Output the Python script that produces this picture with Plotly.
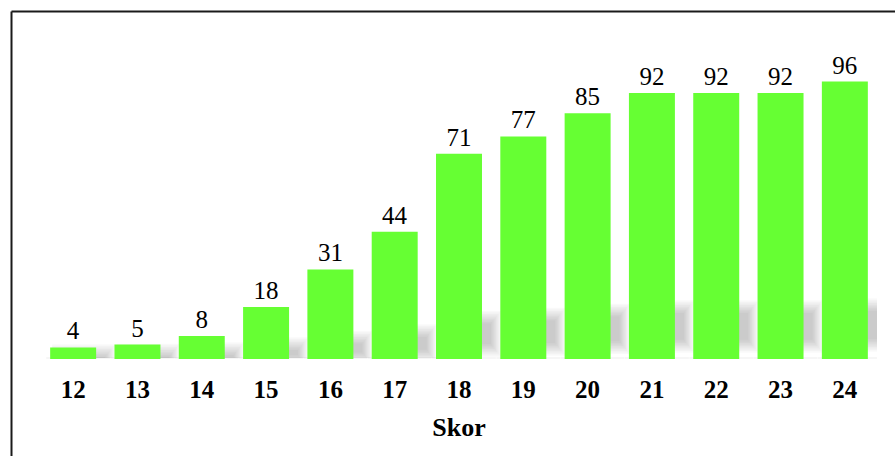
import plotly.graph_objects as go

# Score distribution
skor = [12, 13, 14, 15, 16, 17, 18, 19, 20, 21, 22, 23, 24]
jumlah = [4, 5, 8, 18, 31, 44, 71, 77, 85, 92, 92, 92, 96]

BAR_COLOR = "#66FF33"
SERIF = "Liberation Serif"

W, H = 895, 456
M_L, M_R, M_T, M_B = 41, 18, 70, 97
X_RANGE = [11.5, 24.5]
Y_RANGE = [0, 100]
BAR_GAP = 0.285

px_x = (W - M_L - M_R) / (X_RANGE[1] - X_RANGE[0])   # pixels per x unit
px_y = (H - M_T - M_B) / (Y_RANGE[1] - Y_RANGE[0])   # pixels per y unit

fig = go.Figure()

# soft drop shadows falling behind and to the right of each bar
half_w = (1 - BAR_GAP) / 2
shapes = []
N_LAYERS = 9
for x, v in zip(skor, jumlah):
    s = 0.24 * v * px_y                      # shadow extent in pixels
    core_lo, core_hi = 0.3 * s, 0.72 * s     # darkest band
    for k in range(N_LAYERS):
        g = k * 1.6                          # spread of this layer, px
        lo = max(core_lo - g, 1.0)
        hi = max(core_hi + g, lo + 1.0)
        x0 = x - half_w + 2 / px_x
        x1 = x + half_w + (9 + g * 0.8) / px_x
        shapes.append(dict(type="rect", xref="x", yref="y",
                           x0=x0, x1=x1, y0=lo / px_y, y1=hi / px_y,
                           fillcolor="rgba(0,0,0,0.022)",
                           line=dict(width=0), layer="below"))
    # faint contact line along the base
    shapes.append(dict(type="rect", xref="x", yref="y",
                       x0=x - half_w - 4 / px_x, x1=x + half_w + 14 / px_x,
                       y0=0, y1=2 / px_y,
                       fillcolor="rgba(0,0,0,0.035)",
                       line=dict(width=0), layer="below"))

# frame lines along the top and left
fx = (11.5 - M_L) / (W - M_L - M_R)
fy = (H - M_B - 11.5) / (H - M_T - M_B)
shapes.append(dict(type="line", xref="paper", yref="paper",
                   x0=fx, x1=1.2, y0=fy, y1=fy,
                   line=dict(color="#1a1a1a", width=2)))
shapes.append(dict(type="line", xref="paper", yref="paper",
                   x0=fx, x1=fx, y0=-0.5, y1=fy,
                   line=dict(color="#1a1a1a", width=2)))

fig.add_trace(go.Bar(
    x=skor, y=jumlah,
    marker=dict(color=BAR_COLOR, line=dict(width=0)),
    text=jumlah, texttemplate="%{text}", textposition="outside",
    textfont=dict(family=SERIF, size=25, color="black"),
    constraintext="none",
    cliponaxis=False,
))

fig.update_layout(
    width=W, height=H,
    margin=dict(l=M_L, r=M_R, t=M_T, b=M_B),
    paper_bgcolor="white", plot_bgcolor="white",
    bargap=BAR_GAP, showlegend=False,
    shapes=shapes,
    xaxis=dict(
        range=X_RANGE, tickmode="array", tickvals=skor,
        ticktext=[str(s) for s in skor],
        tickfont=dict(family=SERIF, size=25, color="black", weight="bold"),
        ticks="outside", ticklen=8, tickcolor="rgba(0,0,0,0)",
        showline=False, showgrid=False, zeroline=False,
        title=dict(text="Skor", standoff=15,
                   font=dict(family=SERIF, size=26, color="black", weight="bold")),
    ),
    yaxis=dict(range=Y_RANGE, visible=False, showgrid=False, zeroline=False),
)

fig.write_html("out.html")
